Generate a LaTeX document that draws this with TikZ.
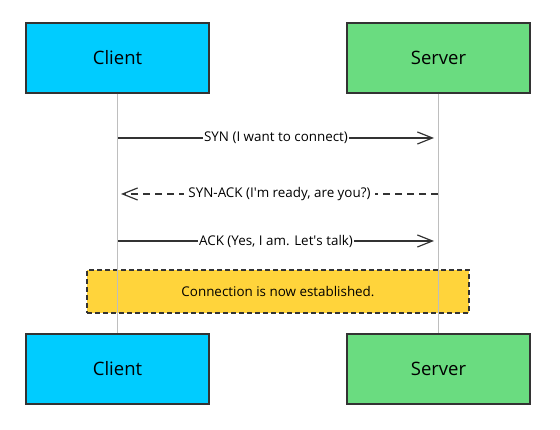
\documentclass[tikz,border=0pt]{standalone}
\usepackage{fontspec}
\setmainfont{Open Sans}
\usetikzlibrary{arrows.meta}
\definecolor{clientc}{RGB}{0,204,255}
\definecolor{serverc}{RGB}{106,220,128}
\definecolor{notec}{RGB}{255,212,59}
\definecolor{edgec}{RGB}{51,51,51}
\definecolor{lifec}{RGB}{190,190,190}
\tikzset{
  actor/.style={draw=edgec, line width=1.2pt, minimum width=183pt, minimum height=70pt, inner sep=0pt, font=\fontsize{18.5}{21}\selectfont},
  msg/.style={draw=edgec, line width=1.2pt, -{Straight Barb[length=15pt,width=12pt,line width=1.2pt]}},
  msglabel/.style={fill=white, inner sep=1pt, font=\fontsize{13.4}{15}\selectfont, text=black},
  note/.style={draw=edgec, line width=1.5pt, dash pattern=on 5pt off 3pt, fill=notec, minimum width=382pt, minimum height=43pt, inner sep=0pt, font=\fontsize{13.4}{15}\selectfont},
  life/.style={draw=lifec, line width=0.8pt}
}
\begin{document}
\begin{tikzpicture}[x=1pt,y=-1pt]
\useasboundingbox (0,0) rectangle (560,430);
\node[actor, fill=clientc] (ct) at (117.5,58) {Client};
\node[actor, fill=serverc] (st) at (438.5,58) {Server};
\node[actor, fill=clientc] (cb) at (117.5,369) {Client};
\node[actor, fill=serverc] (sb) at (438.5,369) {Server};
\node[note] (n) at (278,291.5) {Connection is now established.};
\draw[life] (ct.south) -- (cb.north);
\draw[life] (st.south) -- (sb.north);
\coordinate (c1) at (118,138); \coordinate (s1) at (434,138);
\coordinate (s2) at (438,194); \coordinate (c2) at (121,194);
\coordinate (c3) at (118,241); \coordinate (s3) at (434,241);
\draw[msg] (c1) -- node[msglabel] (l1) {SYN (I want to connect)} (s1);
\draw[msg, dash pattern=on 7pt off 5pt] (s2) -- node[msglabel, inner xsep=4pt] (l2) {SYN-ACK (I\textquotesingle m ready, are you?)} (c2);
\draw[msg] (c3) -- node[msglabel] (l3) {ACK (Yes, I am. Let\textquotesingle s talk)} (s3);
\end{tikzpicture}
\end{document}
